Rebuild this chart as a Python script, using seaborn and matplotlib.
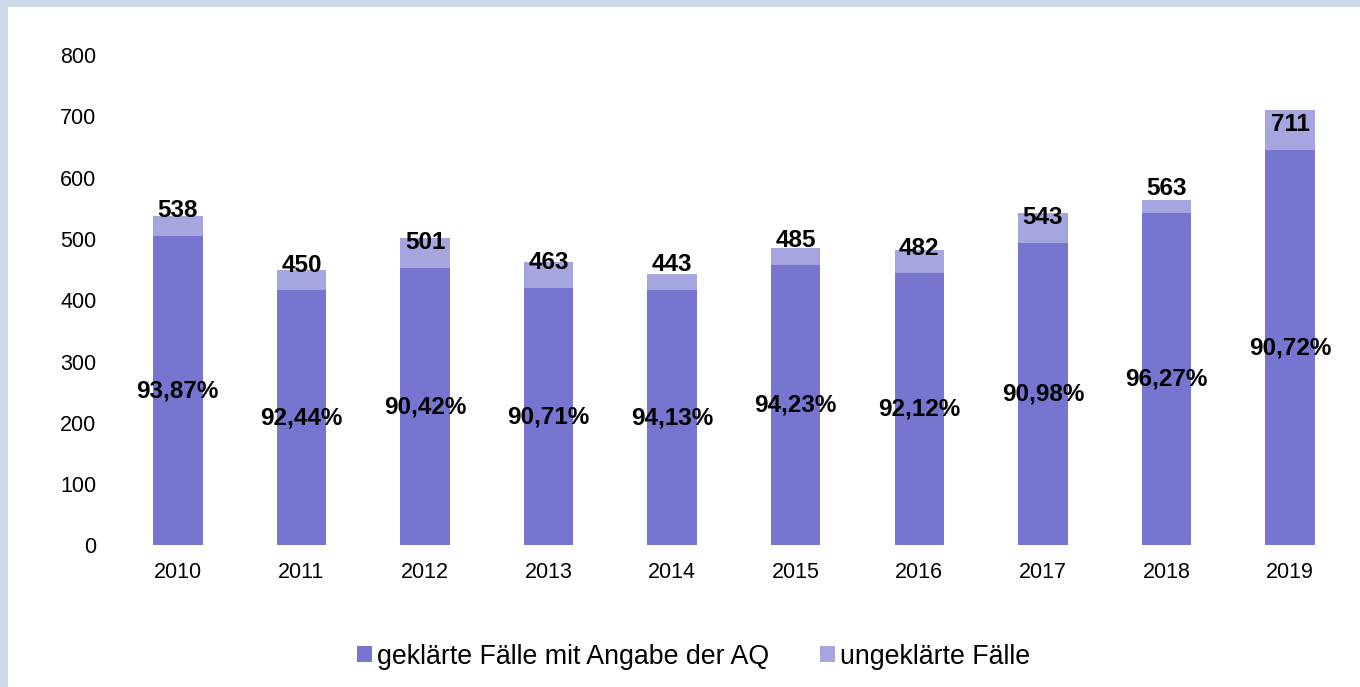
import matplotlib
matplotlib.use("Agg")
import matplotlib.pyplot as plt
from matplotlib.patches import Patch, Rectangle
import pandas as pd
import seaborn as sb

sb.set_style("white")
plt.rcParams['font.family'] = ['Liberation Sans', 'DejaVu Sans']
plt.rcParams['text.color'] = 'black'
plt.rcParams['xtick.color'] = 'black'
plt.rcParams['ytick.color'] = 'black'

# data
years = ['2010', '2011', '2012', '2013', '2014', '2015', '2016', '2017', '2018', '2019']
totals = [538, 450, 501, 463, 443, 485, 482, 543, 563, 711]
solved = [505, 416, 453, 420, 417, 457, 444, 494, 542, 645]
shares = ['93,87%', '92,44%', '90,42%', '90,71%', '94,13%', '94,23%', '92,12%', '90,98%', '96,27%', '90,72%']
series_names = ['geklärte Fälle mit Angabe der AQ', 'ungeklärte Fälle']

dark = '#7676d1'
light = '#a5a5e0'

df = pd.DataFrame({'year': years, 'total': totals, 'solved': solved})

fig = plt.figure(figsize=(13.6, 6.87), dpi=100)
fig.patch.set_facecolor('#cdd9e8')
fig.patches.append(Rectangle((8 / 1360, 0), 1, 1 - 7 / 687, transform=fig.transFigure,
                             facecolor='white', edgecolor='none', zorder=-10))

ax = fig.add_axes([0.0853, 0.206, 0.9087, 0.714])
ax.set_facecolor('none')

# light bar = full total, dark bar drawn over it = solved cases
sb.barplot(data=df, x='year', y='total', color=light, saturation=1, width=0.4,
           linewidth=0, edgecolor='none', ax=ax)
sb.barplot(data=df, x='year', y='solved', color=dark, saturation=1, width=0.4,
           linewidth=0, edgecolor='none', ax=ax)

ax.set_ylim(0, 800)
ax.set_xlim(-0.5, len(years) - 0.5)
ax.set_yticks(range(0, 801, 100))
ax.set_xlabel('')
ax.set_ylabel('')
ax.tick_params(axis='y', length=0, pad=14, labelsize=15.5)
ax.tick_params(axis='x', length=0, pad=12, labelsize=15.5)
sb.despine(ax=ax, left=True, bottom=True)

# share labels centred in the dark segment
ax.bar_label(ax.containers[1], labels=shares, label_type='center',
             fontsize=17.5, fontweight='bold', color='black')

# totals sit a fixed distance above the border between both segments
for i, (tot, sol) in enumerate(zip(totals, solved)):
    ax.annotate(str(tot), (i, sol), xytext=(0, 18), textcoords='offset points',
                ha='center', va='center', fontsize=17.5, fontweight='bold', color='black')

handles = [Patch(facecolor=dark, edgecolor='none'), Patch(facecolor=light, edgecolor='none')]
fig.legend(handles, series_names, loc='center', bbox_to_anchor=(0.51, 0.044), ncol=2,
           frameon=False, fontsize=19.3, handlelength=0.55, handleheight=0.55,
           handletextpad=0.2, columnspacing=1.9)

plt.savefig('out.png', dpi=100, format='png')
